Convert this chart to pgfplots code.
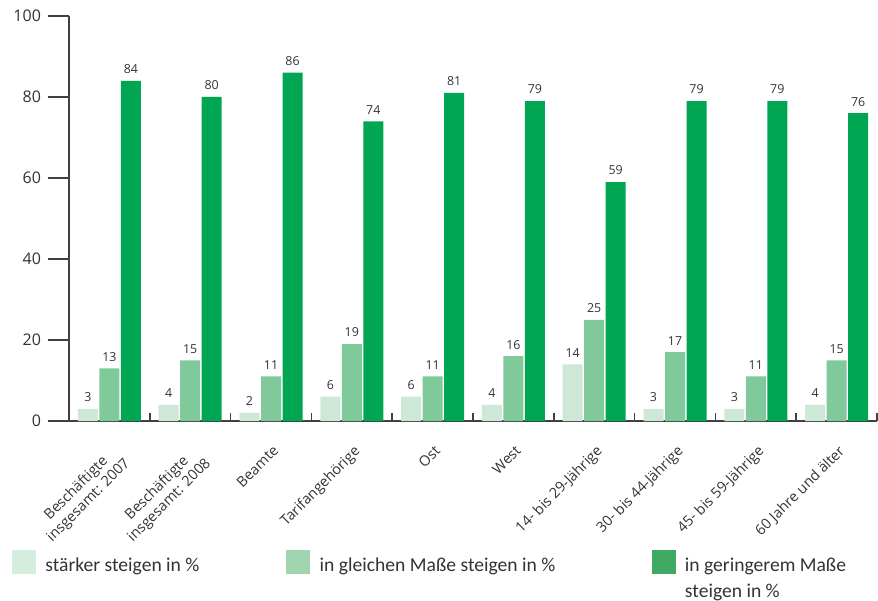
\documentclass[border=0pt]{standalone}
\usepackage{fontspec}
\setmainfont{Open Sans}
\newfontfamily\legendfont{Carlito}
\usepackage{pgfplots}
\usepackage{pgfplotstable}
\pgfplotsset{compat=1.18}

\definecolor{lightg}{HTML}{CDE8D6}
\definecolor{midg}{HTML}{80C99A}
\definecolor{darkg}{HTML}{00A651}
\definecolor{lightgL}{HTML}{D5EDDD}
\definecolor{midgL}{HTML}{A0D4AF}
\definecolor{darkgL}{HTML}{3FA862}
\definecolor{txt}{HTML}{333333}
\definecolor{axisc}{HTML}{404040}

% Anteile je Gruppe: stärker / gleich / geringer steigen (in %)
\pgfplotstableread{
idx light mid dark
0   3     13  84
1   4     15  80
2   2     11  86
3   6     19  74
4   6     11  81
5   4     16  79
6   14    25  59
7   3     17  79
8   3     11  79
9   4     15  76
}\anteile

\pgfplotsset{
  swatch/.style={legend image code/.code={\fill[#1] (0pt,-3.5pt) rectangle (11.5pt,8pt);}},
}

\begin{document}
\begin{tikzpicture}
\useasboundingbox (-34.5pt,-89.5pt) rectangle (404.5pt,210.5pt);
\begin{axis}[
  scale only axis, width=404pt, height=202.5pt,
  at={(0,0)}, anchor=south west,
  xmin=-0.5, xmax=9.5, ymin=0, ymax=100,
  axis x line*=bottom, axis y line*=left,
  axis line style={axisc, line width=0.8pt, -},
  ytick={0,20,...,100},
  xtick={0,...,9},
  minor xtick={0.5,1.5,...,9.5},
  tick align=outside,
  major tick length=10.5pt,
  minor tick length=4pt,
  major x tick style={draw=none},
  minor x tick style={axisc, line width=0.8pt, yshift=4pt},
  y tick style={axisc, line width=0.8pt},
  yticklabel style={font=\fontsize{8}{9.6}\selectfont, text=txt},
  /pgf/number format/assume math mode=true,
  xticklabels={{Beschäftigte\\insgesamt: 2007},{Beschäftigte\\insgesamt: 2008},Beamte,Tarifangehörige,Ost,West,14- bis 29-Jährige,30- bis 44-Jährige,45- bis 59-Jährige,60 Jahre und älter},
  xticklabel style={xshift=0.5pt, yshift=3.8pt, rotate=45, anchor=north east, align=center,
    font=\fontsize{7.2}{8.6}\selectfont, text=txt},
  ybar, bar width=10pt,
  nodes near coords,
  every node near coord/.append style={font=\fontsize{6.2}{7}\selectfont, text=txt},
  legend columns=3,
  legend style={draw=none, fill=none, inner sep=0pt, outer sep=0pt,
    at={(-0.0705,-0.319)}, anchor=north west,
    font=\legendfont\fontsize{9.8}{12.6}\selectfont, text=txt,
    nodes={inner sep=0pt},
    /tikz/every even column/.append style={column sep=0pt},
    /tikz/every odd column/.append style={column sep=4.75pt}},
  legend cell align=left,
]
\addplot[fill=lightg, draw=none, bar shift=-10.75pt, forget plot] table[x=idx, y=light]{\anteile};
\addplot[fill=midg, draw=none, bar shift=0pt, forget plot] table[x=idx, y=mid]{\anteile};
\addplot[fill=darkg, draw=none, bar shift=10.75pt, forget plot] table[x=idx, y=dark]{\anteile};

\addlegendimage{swatch=lightgL}
\addlegendentry{\makebox[120.5pt][l]{stärker steigen in \%}}
\addlegendimage{swatch=midgL}
\addlegendentry{\makebox[166pt][l]{in gleichen Maße steigen in \%}}
\addlegendimage{swatch=darkgL}
\addlegendentry{\parbox[t]{100pt}{in geringerem Maße\\steigen in \%}}
\end{axis}
\end{tikzpicture}
\end{document}
